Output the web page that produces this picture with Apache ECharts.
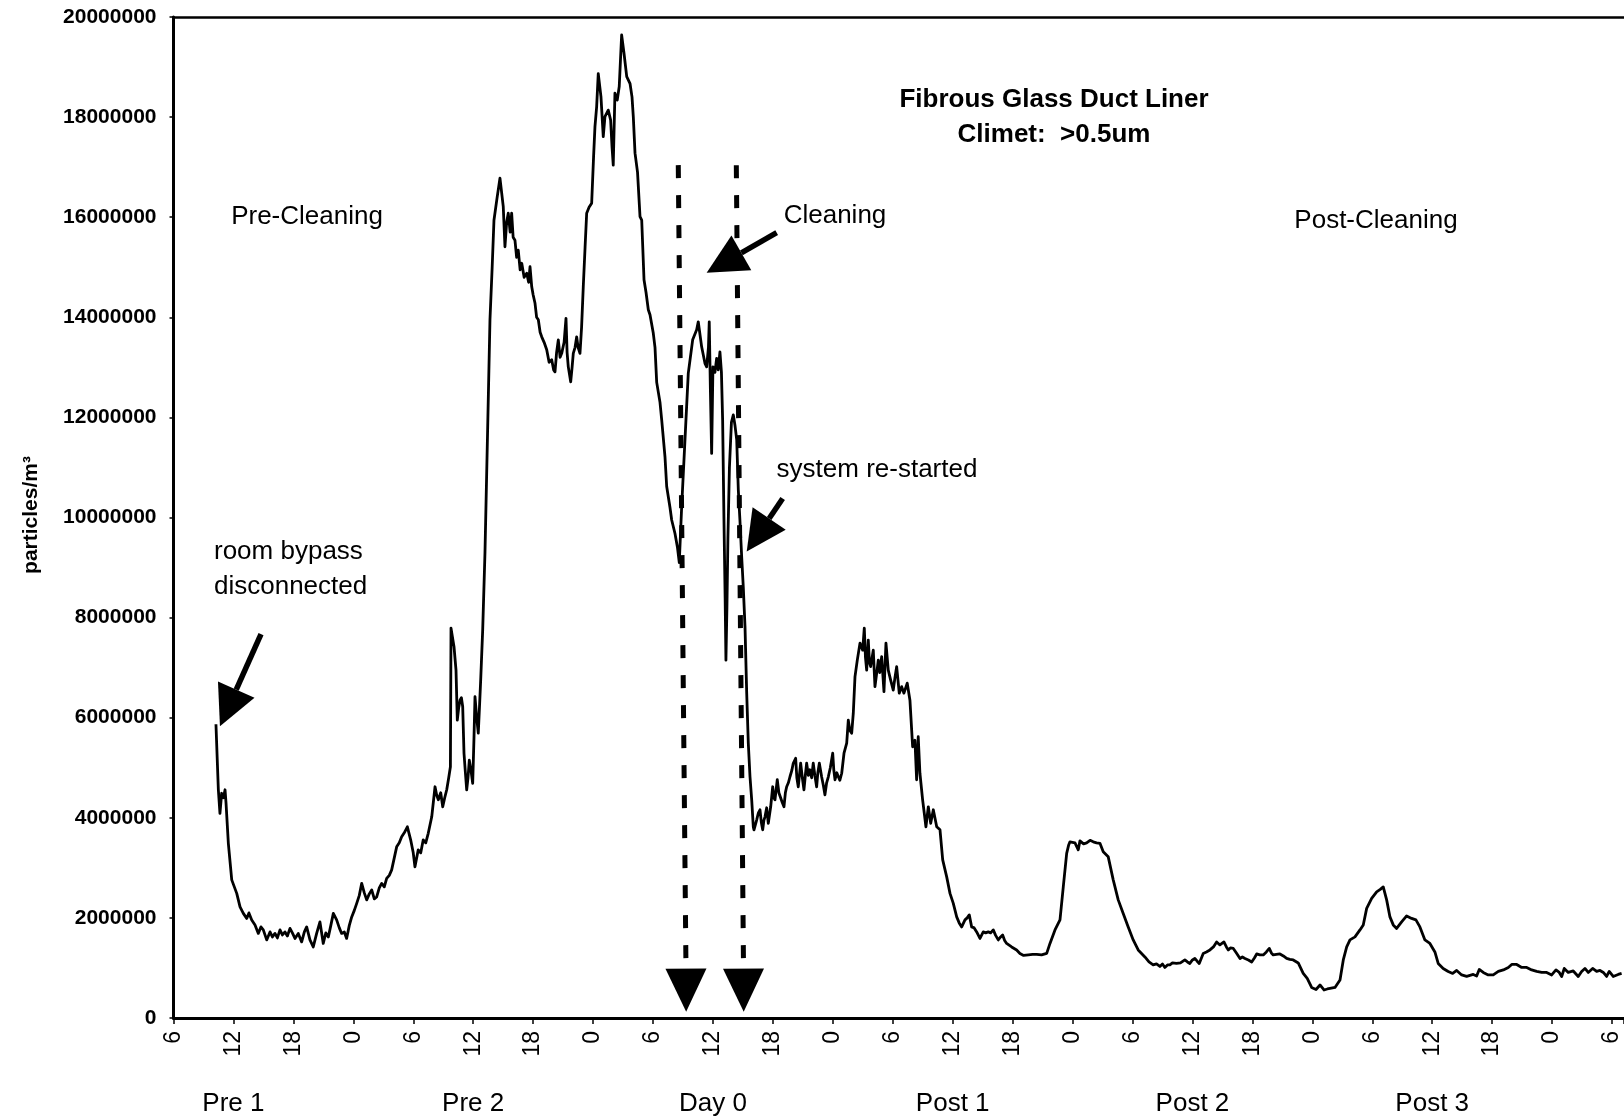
<!DOCTYPE html>
<html>
<head>
<meta charset="utf-8">
<title>Fibrous Glass Duct Liner</title>
<script src="https://cdn.jsdelivr.net/npm/echarts@6/dist/echarts.min.js"></script>
<style>
  html, body { margin: 0; padding: 0; background: #fff; }
  #chart { width: 1624px; height: 1120px; }
</style>
</head>
<body>
<div id="chart"></div>
<script>
// Hours elapsed since midnight of day "Pre 1"
const hours = [
  10.25,10.49,10.65,10.82,11.00,11.16,11.26,11.49,11.83,12.33,12.66,12.99,13.33,13.55,13.83,14.16,14.49,14.75,14.99,15.33,
  15.66,15.90,16.16,16.40,16.66,16.90,17.16,17.40,17.66,17.90,18.16,18.49,18.83,19.10,19.33,19.66,19.99,20.33,20.66,20.99,
  21.25,21.50,21.75,22.00,22.33,22.60,22.83,23.10,23.33,23.60,23.84,24.10,24.34,24.60,24.84,25.10,25.34,25.60,25.84,26.10,
  26.34,26.60,26.84,27.10,27.34,27.60,27.84,28.10,28.34,28.60,28.84,29.10,29.41,29.74,30.00,30.17,30.50,30.75,31.00,31.25,
  31.50,31.85,32.18,32.35,32.51,32.75,32.95,33.15,33.35,33.55,33.72,33.78,34.08,34.28,34.41,34.55,34.68,34.82,34.95,35.08,
  35.22,35.35,35.48,35.61,35.78,35.95,36.08,36.18,36.35,36.51,36.65,36.75,36.95,37.18,37.45,37.68,37.90,38.08,38.40,38.68,
  39.01,39.18,39.35,39.51,39.70,39.85,40.00,40.18,40.35,40.51,40.70,40.86,41.10,41.36,41.55,41.69,41.86,42.00,42.19,42.35,
  42.52,42.70,42.86,43.10,43.36,43.60,43.86,44.05,44.19,44.35,44.52,44.70,44.86,45.10,45.29,45.40,45.52,45.76,45.90,46.02,
  46.20,46.36,46.50,46.69,46.85,47.02,47.20,47.36,47.60,47.86,48.05,48.19,48.36,48.52,48.79,49.02,49.19,49.52,49.76,49.90,
  50.02,50.19,50.42,50.62,50.86,51.10,51.37,51.70,51.90,52.03,52.20,52.45,52.70,52.87,53.10,53.30,53.53,53.70,54.03,54.20,
  54.37,54.70,54.87,55.20,55.37,55.70,55.87,56.20,56.45,56.63,56.87,57.20,57.53,57.97,58.37,58.53,58.87,59.20,59.37,59.55,
  59.63,59.75,59.87,60.00,60.20,60.37,60.53,60.70,60.85,60.97,61.10,61.22,61.30,61.40,61.50,61.65,61.85,62.04,62.20,62.38,
  62.54,62.70,62.88,63.04,63.21,63.38,63.54,63.71,63.88,64.04,64.11,64.38,64.55,64.71,64.85,64.98,65.10,65.21,65.38,65.54,
  65.78,65.98,66.10,66.21,66.44,66.60,66.78,66.95,67.11,67.25,67.38,67.55,67.71,67.90,68.04,68.28,68.40,68.54,68.78,68.95,
  69.11,69.25,69.38,69.55,69.71,69.88,70.04,70.20,70.38,70.50,70.65,70.88,71.05,71.21,71.38,71.55,71.75,71.99,72.10,72.22,
  72.40,72.55,72.70,72.89,73.12,73.39,73.55,73.70,73.89,74.05,74.22,74.45,74.72,74.99,75.15,75.27,75.39,75.55,75.67,75.79,
  76.05,76.22,76.40,76.55,76.70,76.89,77.12,77.32,77.55,77.79,78.05,78.22,78.39,78.65,78.89,79.12,79.30,79.45,79.72,79.85,
  79.99,80.22,80.39,80.55,80.72,80.99,81.15,81.32,81.56,81.80,82.06,82.40,82.73,83.00,83.40,83.73,84.06,84.40,84.65,84.90,
  85.23,85.45,85.66,85.90,86.15,86.40,86.73,87.06,87.30,87.56,87.80,88.06,88.30,88.56,88.80,89.00,89.20,89.40,89.90,90.40,
  90.73,91.10,91.57,92.00,92.41,92.90,93.41,93.74,94.24,94.74,95.07,95.41,95.60,95.74,96.24,96.57,96.74,97.10,97.41,97.75,
  98.07,98.40,98.74,99.07,99.57,100.07,100.57,101.07,101.57,102.07,102.57,103.24,103.65,104.07,104.40,104.74,105.00,105.24,105.50,105.74,
  106.00,106.40,106.80,107.24,107.50,107.74,108.00,108.24,108.45,108.68,109.08,109.40,109.75,110.10,110.42,110.75,111.15,111.40,111.59,111.80,
  112.09,112.40,112.76,113.00,113.26,113.60,113.93,114.20,114.43,114.75,115.09,115.40,115.69,115.90,116.09,116.40,116.76,117.10,117.43,117.75,
  118.09,118.59,119.09,119.49,119.93,120.37,120.77,121.17,121.50,121.77,122.27,122.77,123.10,123.44,123.77,124.27,124.77,125.10,125.44,125.94,
  126.44,126.80,127.10,127.44,127.77,128.10,128.44,128.94,129.44,129.94,130.37,130.77,131.27,131.77,132.27,132.60,133.10,133.60,134.05,134.45,
  134.95,135.45,136.11,136.45,136.71,137.11,137.61,138.11,138.62,139.12,139.62,139.96,140.46,140.96,141.46,141.96,142.46,142.96,143.46,143.96,
  144.39,144.72,144.96,145.22,145.62,146.12,146.62,146.96,147.29,147.62,148.06,148.46,148.80,149.13,149.46,149.72,150.12,150.62,150.96
];

// Particle counts >0.5um, in millions of particles per m³
const particlesM = [
  5.87,4.56,4.09,4.49,4.40,4.56,4.29,3.49,2.76,2.49,2.22,2.09,1.99,2.10,1.96,1.86,1.69,1.82,1.76,1.56,
  1.72,1.62,1.69,1.60,1.76,1.66,1.72,1.64,1.79,1.70,1.59,1.69,1.52,1.72,1.82,1.56,1.42,1.69,1.92,1.49,
  1.70,1.62,1.85,2.09,1.96,1.80,1.69,1.72,1.59,1.85,2.02,2.15,2.29,2.45,2.69,2.50,2.36,2.48,2.56,2.38,
  2.42,2.60,2.69,2.62,2.79,2.85,2.96,3.20,3.42,3.50,3.62,3.70,3.82,3.56,3.30,3.02,3.36,3.30,3.56,3.50,
  3.69,4.02,4.62,4.45,4.36,4.50,4.22,4.40,4.56,4.80,5.02,7.79,7.42,6.95,5.95,6.20,6.35,6.40,6.22,5.29,
  4.90,4.56,4.80,5.15,4.95,4.69,5.60,6.42,6.00,5.69,6.30,6.75,7.75,9.30,11.80,13.95,15.00,15.94,16.40,16.78,
  16.21,15.41,15.90,16.08,15.70,16.08,15.60,15.54,15.20,15.34,14.95,15.08,14.80,14.88,14.70,15.01,14.61,14.45,14.28,14.00,
  13.95,13.70,13.61,13.50,13.35,13.10,13.15,12.95,12.91,13.30,13.55,13.20,13.28,13.50,13.98,13.30,13.01,12.71,13.00,13.28,
  13.40,13.61,13.40,13.28,13.80,14.61,15.40,16.08,16.20,16.28,17.20,17.81,18.21,18.87,18.41,17.61,18.01,18.14,17.94,17.40,
  17.04,18.48,18.34,18.61,19.64,19.27,18.81,18.67,18.40,18.00,17.28,16.90,16.01,15.94,14.75,14.50,14.15,14.05,13.68,13.40,
  12.70,12.30,11.95,11.21,10.62,10.20,9.95,9.68,9.40,9.10,10.22,11.55,12.88,13.55,13.75,13.91,13.41,13.08,13.01,13.40,
  13.91,12.50,11.28,13.01,12.90,13.18,12.95,13.31,12.90,11.95,10.00,8.40,7.15,8.20,9.60,11.00,11.90,12.05,11.85,11.55,
  10.55,9.95,9.20,8.60,7.82,6.49,5.49,4.82,4.36,3.82,3.76,3.96,4.10,4.16,3.90,3.76,3.95,4.02,4.20,3.89,
  4.22,4.62,4.40,4.36,4.76,4.50,4.49,4.30,4.22,4.50,4.62,4.70,4.82,4.95,5.09,5.19,4.80,4.62,5.09,4.80,
  4.56,4.85,5.09,4.85,4.96,4.80,5.09,4.85,4.62,4.90,5.09,4.82,4.65,4.46,4.70,4.82,5.00,5.29,4.95,4.76,
  4.90,4.82,4.75,4.89,5.29,5.49,5.95,5.75,5.69,6.09,6.82,7.15,7.49,7.35,7.79,7.20,6.95,7.55,7.10,7.02,
  7.35,6.62,6.90,7.15,6.90,7.22,6.52,7.49,6.95,6.75,6.55,6.80,7.02,6.49,6.62,6.49,6.60,6.69,6.35,5.90,
  5.42,5.55,4.76,5.62,4.89,4.36,4.10,3.82,4.22,3.89,4.16,3.82,3.76,3.16,2.82,2.49,2.29,2.02,1.90,1.82,
  1.96,2.00,2.06,1.82,1.80,1.72,1.59,1.72,1.70,1.72,1.70,1.76,1.65,1.56,1.62,1.66,1.55,1.49,1.42,1.36,
  1.29,1.25,1.26,1.27,1.27,1.26,1.29,1.49,1.76,1.96,2.62,3.29,3.45,3.52,3.50,3.36,3.54,3.48,3.50,3.55,
  3.52,3.50,3.49,3.32,3.22,2.76,2.36,2.09,1.82,1.56,1.36,1.22,1.12,1.06,1.08,1.03,1.08,1.01,1.06,1.06,
  1.10,1.09,1.10,1.16,1.12,1.09,1.16,1.19,1.14,1.09,1.29,1.32,1.36,1.42,1.52,1.46,1.52,1.42,1.36,1.40,
  1.39,1.30,1.19,1.22,1.19,1.16,1.12,1.20,1.28,1.26,1.26,1.32,1.39,1.30,1.26,1.27,1.28,1.24,1.19,1.17,
  1.16,1.10,0.89,0.79,0.61,0.57,0.66,0.56,0.58,0.59,0.61,0.76,1.16,1.42,1.56,1.62,1.76,1.86,2.19,2.39,
  2.52,2.57,2.62,2.36,2.02,1.86,1.79,1.92,2.04,1.99,1.96,1.82,1.56,1.49,1.32,1.09,0.99,0.93,0.89,0.95,
  0.86,0.83,0.87,0.84,0.97,0.91,0.86,0.86,0.93,0.96,1.01,1.07,1.07,1.01,1.01,0.96,0.93,0.91,0.91,0.86,
  0.96,0.91,0.83,0.99,0.91,0.94,0.83,0.93,0.99,0.91,0.99,0.93,0.95,0.91,0.83,0.93,0.83,0.87,0.89
];

// Day names, centred on noon of each day
const dayNames = ['Pre 1', 'Pre 2', 'Day 0', 'Post 1', 'Post 2', 'Post 3'];
const dayNoonHours = [12, 36, 60, 84, 108, 132];

// Cleaning window markers: [hour, millions] at top and bottom of each dotted line, plus arrow tip
const cleaningMarkers = [
  { top: [56.53, 17.04], bottom: [57.30, 1.00], tip: [57.32, 0.126] },
  { top: [62.34, 17.04], bottom: [63.06, 1.00], tip: [63.08, 0.126] }
];

// Pointer arrows: tail and tip in [hour, millions]
const pointerArrows = [
  { tail: [14.76, 7.67], tip: [10.65, 5.83] },   // room bypass disconnected
  { tail: [66.38, 15.69], tip: [59.37, 14.89] }, // cleaning
  { tail: [66.98, 10.38], tip: [63.38, 9.32] }   // system re-started
];

const FONT = '"Liberation Sans", Arial, Helvetica, sans-serif';
const M = 1e6;

const seriesData = hours.map((h, i) => [h, particlesM[i] * M]);

const chart = echarts.init(document.getElementById('chart'), null, { renderer: 'canvas' });

chart.setOption({
  animation: false,
  backgroundColor: '#ffffff',
  grid: { left: 173.5, top: 17, right: 0, bottom: 102, containLabel: false },
  xAxis: [{
    type: 'value',
    min: 6,
    max: 151.2,
    interval: 6,
    axisLine: { show: true, onZero: false, lineStyle: { color: '#000', width: 3 } },
    axisTick: { show: true, length: 6, lineStyle: { color: '#000', width: 1.5 } },
    axisLabel: {
      rotate: 90,
      margin: 13,
      color: '#000',
      fontFamily: FONT,
      fontSize: 23,
      formatter: v => (Math.abs(v % 6) < 1e-6 ? String(v % 24) : '')
    },
    splitLine: { show: false }
  }, {
    type: 'value',
    position: 'top',
    min: 6,
    max: 151.2,
    axisLine: { show: true, onZero: false, lineStyle: { color: '#000', width: 2.5 } },
    axisTick: { show: false },
    axisLabel: { show: false },
    splitLine: { show: false }
  }],
  yAxis: {
    type: 'value',
    min: 0,
    max: 20 * M,
    interval: 2 * M,
    axisLine: { show: true, onZero: false, lineStyle: { color: '#000', width: 3 } },
    axisTick: { show: true, length: 4, lineStyle: { color: '#000', width: 1.5 } },
    axisLabel: {
      margin: 17,
      color: '#000',
      fontFamily: FONT,
      fontSize: 21,
      fontWeight: 'bold',
      formatter: v => String(v)
    },
    splitLine: { show: false }
  },
  series: [{
    type: 'line',
    data: seriesData,
    symbol: 'none',
    smooth: false,
    clip: true,
    lineStyle: { color: '#000', width: 2.8, join: 'round' },
    markLine: {
      silent: true,
      symbol: ['none', 'none'],
      label: { show: false },
      lineStyle: { color: '#000', width: 5, type: [13, 17], cap: 'butt' },
      emphasis: { disabled: true },
      data: cleaningMarkers.map(m => [
        { coord: [m.top[0], m.top[1] * M] },
        { coord: [m.bottom[0], m.bottom[1] * M] }
      ])
    }
  }]
});

// Annotation layer: texts, arrows and arrowheads placed from data coordinates
function px(pt) {
  return chart.convertToPixel({ xAxisIndex: 0, yAxisIndex: 0 }, [pt[0], pt[1] * M]);
}

function arrowHead(tail, tip, len, width) {
  const dx = tip[0] - tail[0], dy = tip[1] - tail[1];
  const L = Math.hypot(dx, dy);
  const ux = dx / L, uy = dy / L;
  const nx = -uy, ny = ux;
  const bx = tip[0] - ux * len, by = tip[1] - uy * len;
  return {
    base: [bx, by],
    points: [
      [tip[0], tip[1]],
      [bx + nx * width / 2, by + ny * width / 2],
      [bx - nx * width / 2, by - ny * width / 2]
    ]
  };
}

const graphics = [];

pointerArrows.forEach(a => {
  const t = px(a.tail), p = px(a.tip);
  const head = arrowHead(t, p, 40, 40);
  graphics.push({
    type: 'line', silent: true,
    shape: { x1: t[0], y1: t[1], x2: head.base[0], y2: head.base[1] },
    style: { stroke: '#000', lineWidth: 5.5 }
  });
  graphics.push({
    type: 'polygon', silent: true,
    shape: { points: head.points },
    style: { fill: '#000' }
  });
});

cleaningMarkers.forEach(m => {
  const b = px(m.bottom), p = px(m.tip);
  const head = arrowHead(b, p, 43, 41);
  graphics.push({
    type: 'polygon', silent: true,
    shape: { points: head.points },
    style: { fill: '#000' }
  });
});

dayNames.forEach((name, i) => {
  const p = px([dayNoonHours[i], 0]);
  graphics.push({
    type: 'text', silent: true,
    x: p[0], y: 1104,
    style: { text: name, font: '26px ' + FONT, fill: '#000', textAlign: 'center', textVerticalAlign: 'middle' }
  });
});

function addText(text, x, y, size, weight, align) {
  graphics.push({
    type: 'text', silent: true,
    x: x, y: y,
    style: {
      text: text,
      font: (weight || 'normal') + ' ' + size + 'px ' + FONT,
      fill: '#000',
      textAlign: align || 'center',
      textVerticalAlign: 'middle'
    }
  });
}

addText('Fibrous Glass Duct Liner', 1054, 100, 26, 'bold');
addText('Climet:  >0.5um', 1054, 135, 26, 'bold');
addText('Pre-Cleaning', 307, 217, 26);
addText('Cleaning', 835, 216, 26);
addText('Post-Cleaning', 1376, 221, 26);
addText('system re-started', 877, 470, 26);
addText('room bypass', 214, 552, 26, 'normal', 'left');
addText('disconnected', 214, 587, 26, 'normal', 'left');

graphics.push({
  type: 'text', silent: true,
  x: 31, y: 515,
  rotation: Math.PI / 2,
  style: {
    text: 'particles/m³',
    font: 'bold 21px ' + FONT,
    fill: '#000',
    textAlign: 'center',
    textVerticalAlign: 'middle'
  }
});

chart.setOption({ graphic: graphics });
</script>
</body>
</html>
